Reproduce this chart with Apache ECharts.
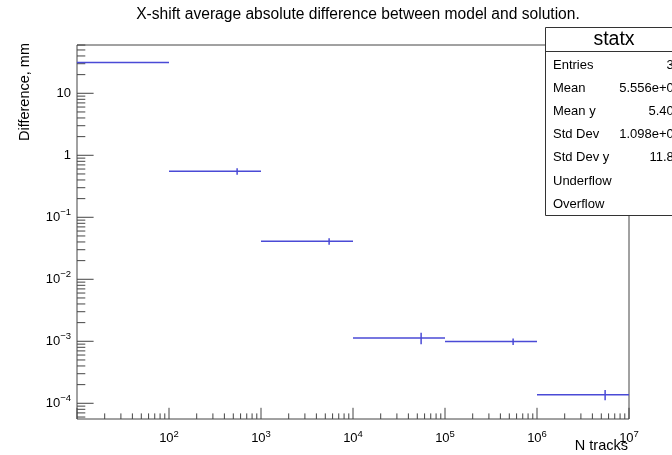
<!DOCTYPE html>
<html>
<head>
<meta charset="utf-8">
<script src="https://cdn.jsdelivr.net/npm/echarts@6/dist/echarts.min.js"></script>
<style>html,body{margin:0;padding:0;background:#fff}#c{width:672px;height:455px}</style>
</head>
<body>
<div id="c"></div>
<script>
// ---- data ----
const binLow    = [10, 100, 1000, 10000, 100000, 1000000];
const binHigh   = [100, 1000, 10000, 100000, 1000000, 10000000];
const binCenter = [55, 550, 5500, 55000, 550000, 5500000];
const values    = [31.5, 0.552, 0.041, 0.001135, 0.00099, 0.0001376];
const errors    = [0.5, 0.065, 0.0048, 0.00024, 0.000115, 0.000026];
const xDecadeExps = [1, 2, 3, 4, 5, 6, 7];
const yDecadeExps = [-5, -4, -3, -2, -1, 0, 1];
const minorMults = [2, 3, 4, 5, 6, 7, 8, 9];
const statLabels = ['Entries', 'Mean', 'Mean y', 'Std Dev', 'Std Dev y', 'Underflow', 'Overflow'];
const statValues = ['36', '5.556e+05', '5.409', '1.098e+06', '11.84', '0', '0'];
const titleText = 'X-shift average absolute difference between model and solution.';

const X_MIN = 10, X_MAX = 1e7, Y_MIN = 5.58e-5, Y_MAX = 60.1;

// tick positions (major + minor) for ROOT-like log axes
const tickData = [];
xDecadeExps.forEach(e => {
  const d = Math.pow(10, e);
  if (d >= X_MIN && d <= X_MAX) tickData.push([d, Y_MIN, 2]);
  minorMults.forEach(m => { const v = m * d; if (v > X_MIN && v < X_MAX) tickData.push([v, Y_MIN, 3]); });
});
yDecadeExps.forEach(e => {
  const d = Math.pow(10, e);
  if (d >= Y_MIN && d <= Y_MAX) tickData.push([X_MIN, d, 0]);
  minorMults.forEach(m => { const v = m * d; if (v > Y_MIN && v < Y_MAX) tickData.push([X_MIN, v, 1]); });
});

function isDecade(v) {
  const e = Math.round(Math.log10(v));
  return Math.abs(v / Math.pow(10, e) - 1) < 1e-6 ? e : null;
}

const FONT = '"Liberation Sans", Arial, Helvetica, sans-serif';
const labelRich = {
  b: { fontSize: 13, fontFamily: FONT, color: '#000' },
  s: { fontSize: 9.5, fontFamily: FONT, color: '#000', padding: [0, 0, 9, 0] }
};
const AX = '#444';
const BLUE = '#4a4ad6';

const chart = echarts.init(document.getElementById('c'), null, { renderer: 'canvas' });
const statRowY0 = 65, statRowDy = 23.2;
const graphics = [
  { type: 'text', z: 100, style: { text: titleText, x: 358, y: 15, textAlign: 'center', textVerticalAlign: 'middle', font: '15.6px ' + FONT, fill: '#000' } },
  { type: 'rect', z: 100, shape: { x: 545.5, y: 27.5, width: 145, height: 188 }, style: { fill: '#fff', stroke: '#333', lineWidth: 1 } },
  { type: 'line', z: 101, shape: { x1: 545.5, y1: 51.5, x2: 690, y2: 51.5 }, style: { stroke: '#333', lineWidth: 1 } },
  { type: 'text', z: 101, style: { text: 'statx', x: 614, y: 40, textAlign: 'center', textVerticalAlign: 'middle', font: '19.5px ' + FONT, fill: '#000' } },
  { type: 'text', z: 100, rotation: Math.PI / 2, style: { text: 'Difference, mm', x: 0, y: 0, textAlign: 'right', textVerticalAlign: 'middle', font: '14.5px ' + FONT, fill: '#000' }, position: [25, 43] },
  { type: 'text', z: 100, style: { text: 'N tracks', x: 628, y: 446, textAlign: 'right', textVerticalAlign: 'middle', font: '14.5px ' + FONT, fill: '#000' } }
];
statLabels.forEach((lab, i) => {
  graphics.push({ type: 'text', z: 101, style: { text: lab, x: 553, y: statRowY0 + i * statRowDy, textAlign: 'left', textVerticalAlign: 'middle', font: '13px ' + FONT, fill: '#000' } });
  graphics.push({ type: 'text', z: 101, style: { text: statValues[i], x: 681, y: statRowY0 + i * statRowDy, textAlign: 'right', textVerticalAlign: 'middle', font: '13px ' + FONT, fill: '#000' } });
});

chart.setOption({
  animation: false,
  backgroundColor: '#fff',
  grid: { left: 77, top: 45, width: 552, height: 374, show: true, borderColor: AX, borderWidth: 1, backgroundColor: 'transparent' },
  xAxis: {
    type: 'log', logBase: 10, min: X_MIN, max: X_MAX,
    axisLine: { show: false }, axisTick: { show: false }, splitLine: { show: false },
    axisLabel: {
      margin: 10, showMinLabel: false,
      formatter: v => { const e = isDecade(v); if (e === null || e === 1) return ''; return '{b|10}{s|' + e + '}'; },
      rich: labelRich
    }
  },
  yAxis: {
    type: 'log', logBase: 10, min: Y_MIN, max: Y_MAX,
    axisLine: { show: false }, axisTick: { show: false }, splitLine: { show: false },
    axisLabel: {
      margin: 6, showMinLabel: false, showMaxLabel: false,
      formatter: v => { const e = isDecade(v); if (e === null) return ''; if (e === 0) return '{b|1}'; if (e === 1) return '{b|10}'; return '{b|10}{s|\u2212' + (-e) + '}'; },
      rich: labelRich
    }
  },
  graphic: graphics,
  series: [
    {
      type: 'custom', name: 'ticks', z: 3, silent: true,
      data: tickData,
      encode: { x: 0, y: 1 },
      renderItem: (params, api) => {
        const p = api.coord([api.value(0), api.value(1)]);
        const k = api.value(2);
        let shape;
        if (k < 2) { const len = k === 0 ? 16.6 : 8.3; shape = { x1: p[0], y1: p[1], x2: p[0] + len, y2: p[1] }; }
        else { const len = k === 2 ? 11.2 : 5.6; shape = { x1: p[0], y1: p[1], x2: p[0], y2: p[1] - len }; }
        return { type: 'line', shape: shape, style: { stroke: AX, lineWidth: 1 } };
      }
    },
    {
      type: 'custom', name: 'statx', z: 4, silent: true,
      data: binLow.map((lo, i) => [lo, binHigh[i], binCenter[i], values[i], errors[i]]),
      encode: { x: [0, 1, 2], y: 3 },
      renderItem: (params, api) => {
        const lo = api.value(0), hi = api.value(1), c = api.value(2), v = api.value(3), e = api.value(4);
        const a = api.coord([lo, v]), b = api.coord([hi, v]);
        const t = api.coord([c, v + e]), u = api.coord([c, v - e]);
        return { type: 'group', children: [
          { type: 'line', shape: { x1: a[0], y1: a[1], x2: b[0], y2: b[1] }, style: { stroke: BLUE, lineWidth: 1.5 } },
          { type: 'line', shape: { x1: t[0], y1: t[1], x2: u[0], y2: u[1] }, style: { stroke: BLUE, lineWidth: 1.5 } }
        ] };
      }
    }
  ]
});
</script>
</body>
</html>
